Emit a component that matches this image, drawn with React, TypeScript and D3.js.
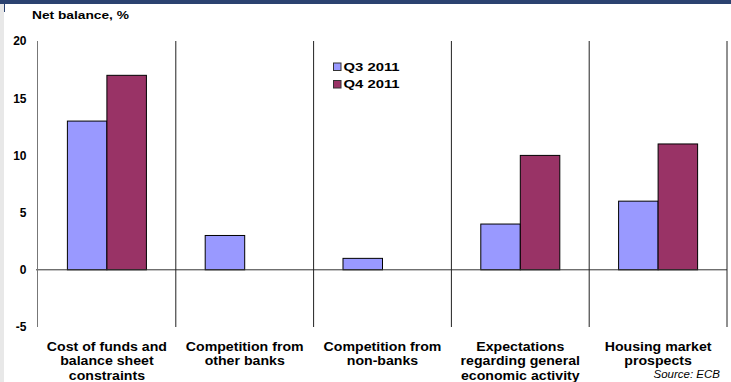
import React from "react";
import * as d3 from "d3";

const categories = [
  ["Cost of funds and", "balance sheet", "constraints"],
  ["Competition from", "other banks"],
  ["Competition from", "non-banks"],
  ["Expectations", "regarding general", "economic activity"],
  ["Housing market", "prospects"],
];
const seriesNames = ["Q3 2011", "Q4 2011"];
const q3Values = [13, 3, 1, 4, 6];
const q4Values = [17, 0, 0, 10, 11];
const yTicks = [20, 15, 10, 5, 0, -5];
const colors = ["#9999FF", "#993366"];

const W = 731;
const H = 382;
const FONT = "'Liberation Sans', Arial, sans-serif";

export default function App() {
  const keys = categories.map((_, i) => String(i));
  const x = d3.scaleBand<string>().domain(keys).range([38, 727]).paddingInner(0).paddingOuter(0);
  const y = d3.scaleLinear().domain([-5, 20]).range([327, 41]);
  const xs = d3
    .scaleBand<string>()
    .domain(seriesNames)
    .range([0, x.bandwidth()])
    .paddingInner(0)
    .paddingOuter(0.744);
  const series = [q3Values, q4Values];
  const y0 = y(0);

  return (
    <svg
      width={W}
      height={H}
      style={{ position: "absolute", left: 0, top: 0, background: "#fff" }}
      fontFamily={FONT}
    >
      <rect x={0} y={0} width={4} height={H} fill="#e8e8e8" />
      <rect x={0} y={0} width={W} height={4} fill="#2B4270" />
      <line x1={4.5} x2={4.5} y1={0} y2={12} stroke="#2B4270" />

      <text
        transform={`translate(32,18.5) scale(1.25,1)`}
        fontSize={11}
        fontWeight="bold"
        fill="#000"
      >
        Net balance, %
      </text>

      {yTicks.map((t) => (
        <text
          key={t}
          x={26.5}
          y={y(t)}
          dy="0.36em"
          textAnchor="end"
          fontSize={12}
          fontWeight="bold"
          fill="#000"
        >
          {t}
        </text>
      ))}

      {series.map((vals, si) =>
        vals.map((v, i) => {
          if (v === 0) return null;
          const bx = (x(String(i)) as number) + (xs(seriesNames[si]) as number);
          return (
            <rect
              key={`${si}-${i}`}
              x={bx}
              y={y(Math.max(v, 0))}
              width={xs.bandwidth()}
              height={Math.abs(y(v) - y0)}
              fill={colors[si]}
              stroke="#000"
              strokeWidth={1}
            />
          );
        })
      )}

      <line x1={36} x2={727} y1={y0} y2={y0} stroke="#333" strokeWidth={1} />
      <line x1={37.5} x2={37.5} y1={y(20)} y2={y(-5)} stroke="#777" strokeWidth={1} />
      {keys.map((k) => {
        const xx = (x(k) as number) + x.bandwidth();
        return (
          <line key={k} x1={xx} x2={xx} y1={y(20)} y2={y(-5)} stroke="#222" strokeWidth={1} />
        );
      })}

      {seriesNames.map((s, i) => (
        <g key={s} transform={`translate(333,${62.5 + i * 17.5})`}>
          <rect x={0.5} y={0.5} width={7.5} height={7.5} fill={colors[i]} stroke="#333" strokeWidth={1} />
          <text
            transform={`translate(10.5,8.3) scale(1.35,1)`}
            fontSize={11}
            fontWeight="bold"
            fill="#000"
          >
            {s}
          </text>
        </g>
      ))}

      {categories.map((lines, i) => {
        const cx = (x(String(i)) as number) + x.bandwidth() / 2;
        return (
          <g key={i}>
            {lines.map((l, j) => (
              <text
                key={j}
                transform={`translate(${cx},${351 + j * 14.3}) scale(1.15,1)`}
                textAnchor="middle"
                fontSize={12.3}
                fontWeight="bold"
                fill="#000"
              >
                {l}
              </text>
            ))}
          </g>
        );
      })}

      <text x={720} y={378} textAnchor="end" fontSize={11.5} fontStyle="italic" fill="#000">
        Source: ECB
      </text>
    </svg>
  );
}
